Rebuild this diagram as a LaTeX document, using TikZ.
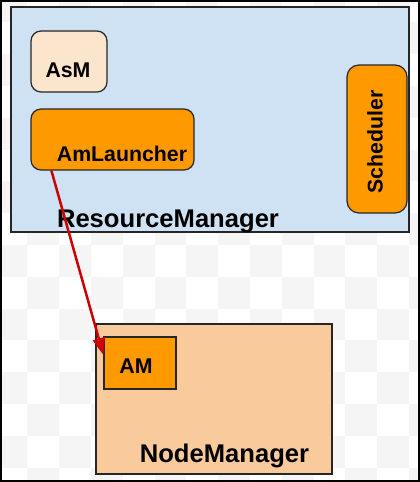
\documentclass[tikz,border=0pt]{standalone}
\usepackage{fontspec}
\setmainfont{Liberation Sans}
\usetikzlibrary{arrows.meta}
\definecolor{rmblue}{HTML}{CFE2F3}
\definecolor{asmpeach}{HTML}{FCE5CD}
\definecolor{amorange}{HTML}{FF9900}
\definecolor{nmpeach}{HTML}{F9CB9C}
\definecolor{arrowred}{HTML}{CC0000}

\begin{document}
\begin{tikzpicture}[x=1pt,y=-1pt,
  box/.style={draw=black!85,line width=1.2pt,inner sep=0pt},
  big/.style={font=\fontsize{25.6}{28}\selectfont\bfseries,inner sep=0pt},
  small/.style={font=\fontsize{21.3}{24}\selectfont\bfseries,inner sep=0pt}]
  \useasboundingbox (0,0) rectangle (420,482);
  \clip (0,0) rectangle (420,482);
  % checkerboard background
  \foreach \c in {0,...,13}
    \foreach \r in {0,...,15} {
      \pgfmathparse{int(mod(\c+\r,2))}
      \ifnum\pgfmathresult=0
        \fill[black!4] (-4.5+31.8*\c,-9.4+31.8*\r) rectangle ++(31.8,31.8);
      \fi
    }
  \node (rm) at (210,119.5) [box,fill=rmblue,minimum width=398pt,minimum height=225pt] {};
  \node (asm) at (69,61.5) [box,fill=asmpeach,rounded corners=10pt,minimum width=76pt,minimum height=61pt] {};
  \node (aml) at (112.5,139.5) [box,fill=amorange,rounded corners=10pt,minimum width=163pt,minimum height=61pt] {};
  \node (sched) at (377,139) [box,fill=amorange,rounded corners=12pt,minimum width=60pt,minimum height=148pt] {};
  \node (asm text) at (68,77) [small,anchor=base] {AsM};
  \node (aml text) at (122,161) [small,anchor=base] {AmLauncher};
  \node (sched text) at (375,142) [small,rotate=90] {Scheduler};
  \node (rm text) at (168,227) [big,anchor=base] {ResourceManager};

  \node (nm) at (214,399) [box,fill=nmpeach,minimum width=236pt,minimum height=150pt] {};
  \node (am) at (140,363) [box,fill=amorange,minimum width=72pt,minimum height=52pt] {};
  \node (am text) at (136,373) [small,anchor=base] {AM};
  \node (nm text) at (224.5,462) [big,anchor=base] {NodeManager};

  \draw[arrowred,line width=2.5pt,-{Triangle[length=17pt,width=12pt]}]
    ([xshift=21pt]aml.south west) -- ([yshift=8pt]am.west);
  \draw[black,line width=2pt] (1,1) rectangle (419,481);
\end{tikzpicture}
\end{document}
